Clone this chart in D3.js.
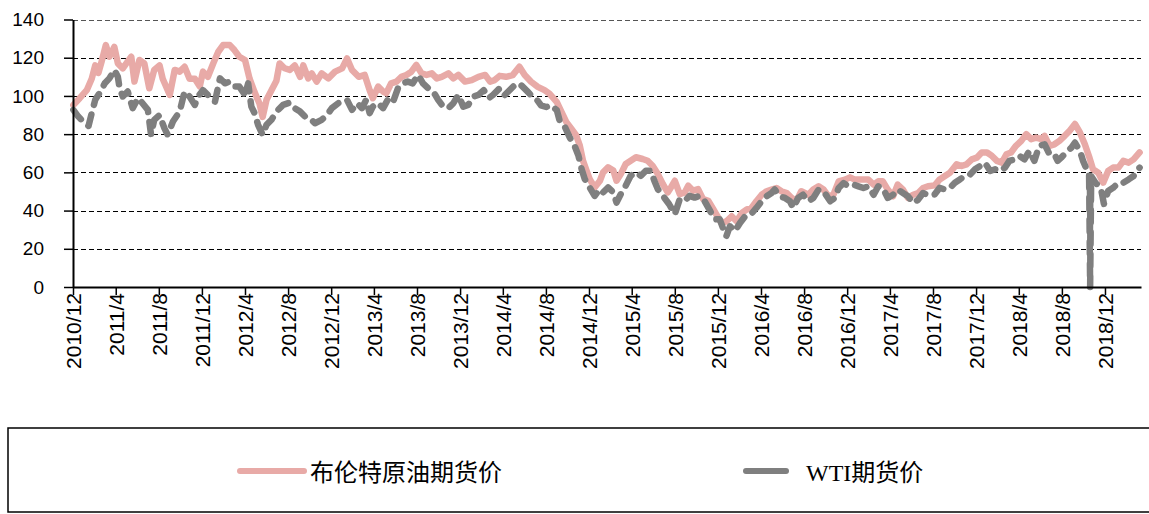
<!DOCTYPE html>
<html>
<head>
<meta charset="utf-8">
<script src="https://d3js.org/d3.v7.min.js"></script>
<style>
  body { margin: 0; background: #fff; }
  svg { display: block; }
</style>
</head>
<body>
<div class="chart"></div>
<script>
// Brent vs WTI futures price, 2010/12 - 2019/3

var tickLabels = ["2010/12","2011/4","2011/8","2011/12","2012/4","2012/8","2012/12",
    "2013/4","2013/8","2013/12","2014/4","2014/8","2014/12","2015/4","2015/8","2015/12",
    "2016/4","2016/8","2016/12","2017/4","2017/8","2017/12","2018/4","2018/8","2018/12"];

var yTicks = [0, 20, 40, 60, 80, 100, 120, 140];

var seriesNames = ["布伦特原油期货价", "WTI期货价"];

var brent = [
  ["2010-12-02",95.3],["2010-12-20",98.8],["2011-01-09",103],["2011-01-23",109],["2011-02-02",116],
  ["2011-02-11",112],["2011-02-20",118],["2011-03-04",126.6],["2011-03-14",120.5],["2011-03-28",125.7],
  ["2011-04-07",117],["2011-04-21",114.4],["2011-05-01",117],["2011-05-15",120.5],["2011-05-24",107.5],
  ["2011-06-07",118.8],["2011-06-21",117],["2011-07-05",104],["2011-07-19",113.6],["2011-08-03",116],
  ["2011-08-12",109],["2011-09-01",100.5],["2011-09-15",113.6],["2011-09-29",112.7],["2011-10-13",115.3],
  ["2011-10-27",109],["2011-11-11",109],["2011-11-25",105],["2011-12-04",112.7],["2011-12-18",110],
  ["2012-01-02",117],["2012-01-16",123],["2012-01-30",126.6],["2012-02-18",126.6],["2012-03-02",124],
  ["2012-03-16",120.5],["2012-04-01",118.8],["2012-04-14",109],["2012-04-28",102],["2012-05-12",96],
  ["2012-05-21",89],["2012-06-01",98],["2012-06-15",103],["2012-06-29",108],["2012-07-08",117],
  ["2012-07-22",114.5],["2012-08-06",113.6],["2012-08-20",116],["2012-09-04",110],["2012-09-13",116],
  ["2012-09-27",109.2],["2012-10-07",111.8],["2012-10-21",107.5],["2012-11-04",111.8],["2012-11-23",109.2],
  ["2012-12-12",112.7],["2013-01-01",114.4],["2013-01-15",119.6],["2013-01-29",113.6],["2013-02-17",110],
  ["2013-03-06",111],["2013-03-20",103],["2013-03-29",98.8],["2013-04-13",104.9],["2013-04-27",102.3],
  ["2013-05-06",101.4],["2013-05-20",106.6],["2013-06-04",107.5],["2013-06-18",110],["2013-07-02",111],
  ["2013-07-16",112.7],["2013-07-30",116.2],["2013-08-14",111.8],["2013-08-28",111],["2013-09-12",111.8],
  ["2013-09-26",109.2],["2013-10-10",110],["2013-10-29",111.8],["2013-11-12",109.2],["2013-11-26",111],
  ["2013-12-15",107.5],["2014-01-03",108.3],["2014-01-22",110],["2014-02-10",111],["2014-02-24",107.5],
  ["2014-03-09",108.3],["2014-03-23",110.5],["2014-04-10",110],["2014-04-29",110.9],["2014-05-18",115.3],
  ["2014-06-02",110.9],["2014-06-20",107.4],["2014-07-09",104.7],["2014-07-28",103],["2014-08-11",101.2],
  ["2014-09-01",96.8],["2014-09-14",91.6],["2014-09-28",86.3],["2014-10-12",82.8],["2014-10-26",79.3],
  ["2014-11-05",74],["2014-11-14",66.1],["2014-11-24",60.9],["2014-12-03",56.5],["2014-12-17",52.1],
  ["2015-01-01",55.6],["2015-01-10",60],["2015-01-24",62.6],["2015-02-08",60.9],["2015-02-17",55.6],
  ["2015-03-01",59.1],["2015-03-15",64.4],["2015-03-29",66.1],["2015-04-13",67.9],["2015-05-02",67],
  ["2015-05-16",66.1],["2015-05-30",63.5],["2015-06-14",59.1],["2015-06-28",53.9],["2015-07-12",49.5],
  ["2015-07-21",52.1],["2015-08-01",55.6],["2015-08-15",48.6],["2015-08-29",49.5],["2015-09-08",53],
  ["2015-09-22",50.4],["2015-10-06",51.2],["2015-10-20",46],["2015-11-04",45.1],["2015-11-18",40.7],
  ["2015-12-06",35],["2015-12-11",33.6],["2015-12-25",34.4],["2016-01-09",37],["2016-01-23",34.4],
  ["2016-02-07",38.8],["2016-02-20",40.5],["2016-03-05",41.4],["2016-03-19",44.9],["2016-04-03",48.3],
  ["2016-04-17",50.1],["2016-05-01",51],["2016-05-15",51.8],["2016-05-29",50.1],["2016-06-13",49.2],
  ["2016-06-27",46.6],["2016-07-10",44.9],["2016-07-24",50.1],["2016-08-13",48.3],["2016-08-27",51],
  ["2016-09-11",52.7],["2016-09-25",51],["2016-10-09",47.5],["2016-10-23",48.3],["2016-11-07",55.3],
  ["2016-11-25",56.2],["2016-12-09",57.4],["2016-12-23",56.2],["2017-01-11",56.2],["2017-01-30",56.2],
  ["2017-02-14",53.6],["2017-02-27",55.3],["2017-03-12",55.3],["2017-03-26",51],["2017-04-10",47.5],
  ["2017-04-23",53.6],["2017-05-08",51],["2017-05-22",46.6],["2017-06-06",48.3],["2017-06-20",49.2],
  ["2017-07-04",51.8],["2017-07-18",52.7],["2017-08-06",53.2],["2017-08-20",56.3],["2017-09-04",58.1],
  ["2017-09-18",59.8],["2017-10-07",64.2],["2017-10-21",63.3],["2017-11-04",64.2],["2017-11-19",66.8],
  ["2017-12-03",67.7],["2017-12-17",70.4],["2018-01-01",70.4],["2018-01-15",68.6],["2018-01-29",66],
  ["2018-02-12",65.1],["2018-02-25",69.5],["2018-03-10",70.4],["2018-03-24",73.9],["2018-04-08",76.5],
  ["2018-04-22",80],["2018-05-06",77.4],["2018-05-20",78.2],["2018-06-04",77.4],["2018-06-13",79.1],
  ["2018-06-27",73.9],["2018-07-11",74.7],["2018-07-25",76.5],["2018-08-09",79.1],["2018-08-23",81.8],
  ["2018-09-07",85.3],["2018-09-21",80.9],["2018-10-05",74.7],["2018-10-18",67.7],["2018-10-28",61.6],
  ["2018-11-12",59.8],["2018-11-26",54.6],["2018-12-10",60.7],["2018-12-24",62.5],["2019-01-08",62.5],
  ["2019-01-22",66],["2019-02-06",65.1],["2019-02-20",66.8],["2019-03-09",70.4]
];

var wti = [
  ["2010-12-02",92.7],["2010-12-16",89.2],["2010-12-30",86.6],["2011-01-14",84.3],["2011-01-23",91],
  ["2011-02-02",98],["2011-02-16",102],["2011-03-01",106.6],["2011-03-14",109.2],["2011-03-28",113.6],
  ["2011-04-07",110],["2011-04-12",104],["2011-04-21",99.7],["2011-05-05",102.3],["2011-05-19",93.6],
  ["2011-06-03",98.8],["2011-06-12",97],["2011-07-01",92.7],["2011-07-10",79.7],["2011-07-19",87.5],
  ["2011-08-03",90],["2011-08-17",83],["2011-08-26",79.7],["2011-09-10",86.6],["2011-09-29",91.8],
  ["2011-10-13",102.3],["2011-10-27",99.7],["2011-11-11",95.3],["2011-11-20",99.7],["2011-12-04",103],
  ["2011-12-18",100.5],["2012-01-07",97],["2012-01-21",109.2],["2012-02-04",106.6],["2012-02-18",107.5],
  ["2012-03-02",104.9],["2012-03-16",104.9],["2012-04-01",100.5],["2012-04-10",106.6],["2012-04-19",94.4],
  ["2012-04-28",91],["2012-05-08",84.9],["2012-05-21",79.7],["2012-06-01",84.9],["2012-06-15",87.5],
  ["2012-06-29",91.8],["2012-07-18",95.3],["2012-08-06",96.5],["2012-08-20",93.6],["2012-09-04",91.8],
  ["2012-09-18",89.2],["2012-10-02",88.3],["2012-10-16",85.7],["2012-11-04",87.5],["2012-11-19",90],
  ["2012-12-03",93.6],["2012-12-21",96.2],["2013-01-15",97.9],["2013-01-29",92.7],["2013-02-12",96.2],
  ["2013-02-26",93.6],["2013-03-10",97.9],["2013-03-20",91],["2013-03-29",94.4],["2013-04-13",96.2],
  ["2013-04-27",93.6],["2013-05-10",97.9],["2013-05-24",96.2],["2013-06-08",104],["2013-06-22",106.6],
  ["2013-07-06",107.5],["2013-07-20",106.6],["2013-08-04",111],["2013-08-18",106.6],["2013-09-02",104],
  ["2013-09-16",102.3],["2013-09-30",97.9],["2013-10-14",94.4],["2013-10-29",93.6],["2013-11-12",96.2],
  ["2013-11-26",100.5],["2013-12-10",94.4],["2013-12-24",95.3],["2014-01-08",99.7],["2014-01-22",100.5],
  ["2014-02-06",103],["2014-02-20",98.8],["2014-03-04",100.5],["2014-03-23",104],["2014-04-06",100.4],
  ["2014-04-20",103],["2014-05-09",106.5],["2014-05-23",105.6],["2014-06-11",102.1],["2014-06-20",100.4],
  ["2014-07-04",98.6],["2014-07-18",95.1],["2014-08-02",94.2],["2014-08-16",95.1],["2014-09-01",92.5],
  ["2014-09-10",86.3],["2014-09-24",83.7],["2014-10-07",78.4],["2014-10-21",74],["2014-11-01",68.8],
  ["2014-11-10",61.8],["2014-11-19",56.5],["2014-12-03",52.1],["2014-12-17",47.7],["2015-01-01",51.2],
  ["2015-01-10",49.5],["2015-01-24",52.1],["2015-02-08",49.5],["2015-02-17",44.2],["2015-03-01",48.6],
  ["2015-03-15",53],["2015-03-29",58.2],["2015-04-13",60],["2015-04-27",58.2],["2015-05-11",60.9],
  ["2015-05-25",60.9],["2015-06-04",55.6],["2015-06-14",51.2],["2015-07-02",46.8],["2015-07-16",43.3],
  ["2015-08-01",38.1],["2015-08-15",46],["2015-08-29",45.1],["2015-09-12",47.7],["2015-09-26",46.8],
  ["2015-10-10",47.7],["2015-10-24",45.1],["2015-11-09",39.8],["2015-11-22",35.4],["2015-12-06",35.5],
  ["2015-12-15",31],["2015-12-25",26.6],["2016-01-04",31.8],["2016-01-18",29.2],["2016-02-02",33.6],
  ["2016-02-16",37],["2016-03-01",37.5],["2016-03-19",41.4],["2016-04-03",44.9],["2016-04-17",47.5],
  ["2016-05-01",49.2],["2016-05-10",51],["2016-05-24",47.5],["2016-06-08",46.6],["2016-06-22",44.9],
  ["2016-07-01",41.4],["2016-07-15",46.6],["2016-07-29",48.3],["2016-08-13",44.9],["2016-08-27",46.6],
  ["2016-09-11",51],["2016-09-25",50.1],["2016-10-14",44.9],["2016-10-27",46.6],["2016-11-07",51.8],
  ["2016-11-21",54.4],["2016-12-04",52.7],["2016-12-18",53.6],["2017-01-02",52.7],["2017-01-16",51.8],
  ["2017-01-30",52.7],["2017-02-14",48.3],["2017-02-27",52.7],["2017-03-12",51.8],["2017-03-26",46.6],
  ["2017-04-10",48.3],["2017-04-23",51],["2017-05-08",49.2],["2017-05-22",47.5],["2017-06-06",44],
  ["2017-06-20",45.7],["2017-07-04",49.2],["2017-07-22",47.8],["2017-08-06",48.5],["2017-08-20",51.9],
  ["2017-09-04",51],["2017-09-18",51.9],["2017-10-02",54.6],["2017-10-16",56.3],["2017-10-30",58.1],
  ["2017-11-14",58.9],["2017-11-28",61.6],["2017-12-12",63.3],["2017-12-26",65.1],["2018-01-10",60.7],
  ["2018-01-24",61.6],["2018-02-07",60.7],["2018-02-21",62.5],["2018-03-05",66],["2018-03-20",66.8],
  ["2018-04-03",68.6],["2018-04-17",66.8],["2018-05-01",71.2],["2018-05-15",66],["2018-05-29",73.9],
  ["2018-06-13",74.7],["2018-06-27",69.5],["2018-07-11",69.5],["2018-07-20",66],["2018-07-30",67.7],
  ["2018-08-13",70.4],["2018-08-28",73],["2018-09-07",75.6],["2018-09-21",71.2],["2018-09-30",66],
  ["2018-10-09",62],["2018-10-17",59.5],["2018-10-20",0],["2018-10-23",58],["2018-11-06",54],
  ["2018-11-12",53.7],["2018-11-21",50.2],["2018-11-28",43.5],["2018-12-10",50.2],["2018-12-24",51.9],
  ["2019-01-08",54.6],["2019-01-22",54.6],["2019-02-06",56.3],["2019-02-20",58.1],["2019-03-09",62.5]
];


var width = 1149, height = 514;
var plot = {left: 73, right: 1141, top: 19.5, bottom: 287};

var svg = d3.select(".chart").append("svg")
    .attr("width", width)
    .attr("height", height)
    .style("font-family", "'Liberation Sans', Arial, sans-serif");

var parse = d3.timeParse("%Y-%m-%d");
var parseTick = d3.timeParse("%Y/%m");

var x = d3.scaleTime()
    .domain([parse("2010-12-01"), parse("2019-03-13")])
    .range([plot.left, plot.right]);

var y = d3.scaleLinear()
    .domain([0, 140])
    .range([plot.bottom, plot.top]);

// dashed gridlines, snapped to the pixel grid
svg.append("g").selectAll("line")
    .data(yTicks.filter(function(d) { return d > 0; }))
    .enter().append("line")
    .attr("x1", plot.left).attr("x2", plot.right)
    .attr("y1", function(d) { return Math.round(y(d)) + 0.5; })
    .attr("y2", function(d) { return Math.round(y(d)) + 0.5; })
    .attr("stroke", function(d) { return d === 140 ? "#555" : "#000"; })
    .attr("stroke-width", 1.2)
    .attr("stroke-dasharray", "5,3");

var line = d3.line()
    .x(function(d) { return x(parse(d[0])); })
    .y(function(d) { return y(d[1]); });

svg.append("path")
    .datum(brent)
    .attr("d", line)
    .attr("fill", "none")
    .attr("stroke", "#E8AAA7")
    .attr("stroke-width", 6.5)
    .attr("stroke-linejoin", "round")
    .attr("stroke-linecap", "round");

svg.append("path")
    .datum(wti)
    .attr("d", line)
    .attr("fill", "none")
    .attr("stroke", "#7F7F7F")
    .attr("stroke-width", 6.5)
    .attr("stroke-linejoin", "round")
    .attr("stroke-linecap", "round")
    .attr("stroke-dasharray", "12,10");

// the one-day drop to zero shows as a solid bar
var spike = wti.filter(function(d) { return d[0] >= "2018-10-17" && d[0] <= "2018-10-23"; });
svg.append("path")
    .datum(spike)
    .attr("d", line)
    .attr("fill", "none")
    .attr("stroke", "#7F7F7F")
    .attr("stroke-width", 5)
    .attr("stroke-linejoin", "round");

// axes
var yAxis = svg.append("g")
    .attr("transform", "translate(" + plot.left + ",0)")
    .call(d3.axisLeft(y).tickValues(yTicks).tickSize(9).tickPadding(20).tickSizeOuter(0));

yAxis.select(".domain").attr("stroke", "#000").attr("stroke-width", 2);
yAxis.selectAll(".tick line").attr("stroke", "#000").attr("stroke-width", 1.5);
yAxis.selectAll("text")
    .attr("fill", "#000")
    .style("font-size", "19px")
    .style("font-family", "'Liberation Sans', Arial, sans-serif");

var xAxis = svg.append("g")
    .attr("transform", "translate(0," + plot.bottom + ")")
    .call(d3.axisBottom(x)
        .tickValues(tickLabels.map(function(t) { return parseTick(t); }))
        .tickSize(8)
        .tickSizeOuter(0)
        .tickFormat(function(d, i) { return tickLabels[i]; }));

xAxis.select(".domain").attr("stroke", "#000").attr("stroke-width", 2);
xAxis.selectAll(".tick line").attr("stroke", "#000").attr("stroke-width", 1.5);
xAxis.selectAll("text")
    .attr("fill", "#000")
    .attr("transform", "rotate(-90)")
    .attr("text-anchor", "end")
    .attr("x", -6)
    .attr("y", 0)
    .attr("dy", "0.36em")
    .style("font-size", "21px")
    .style("font-family", "'Liberation Sans', Arial, sans-serif");

// legend
var legend = svg.append("g");

legend.append("rect")
    .attr("x", 8).attr("y", 428)
    .attr("width", 1160).attr("height", 84)
    .attr("fill", "none")
    .attr("stroke", "#000")
    .attr("stroke-width", 1.5);

legend.append("line")
    .attr("x1", 240).attr("x2", 304)
    .attr("y1", 471).attr("y2", 471)
    .attr("stroke", "#E8AAA7")
    .attr("stroke-width", 6)
    .attr("stroke-linecap", "round");

legend.append("text")
    .attr("x", 310).attr("y", 481)
    .style("font-family", "'Liberation Serif', 'Noto Sans CJK SC', serif")
    .style("font-size", "24px")
    .attr("fill", "#000")
    .text(seriesNames[0]);

legend.append("line")
    .attr("x1", 746).attr("x2", 786)
    .attr("y1", 471).attr("y2", 471)
    .attr("stroke", "#7F7F7F")
    .attr("stroke-width", 6)
    .attr("stroke-linecap", "round");

legend.append("text")
    .attr("x", 806).attr("y", 481)
    .style("font-family", "'Liberation Serif', 'Noto Sans CJK SC', serif")
    .style("font-size", "24px")
    .attr("fill", "#000")
    .text(seriesNames[1]);
</script>
</body>
</html>
